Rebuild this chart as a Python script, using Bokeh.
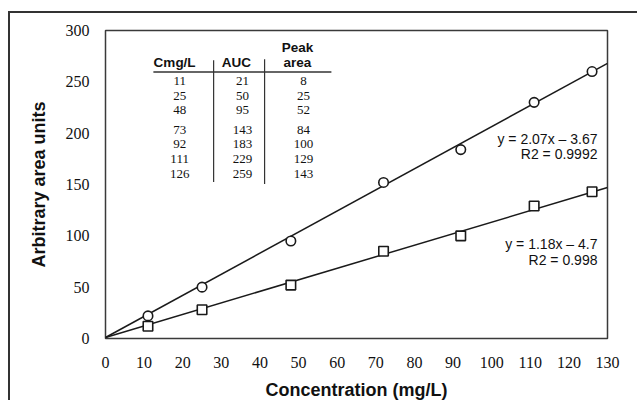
from bokeh.plotting import figure
from bokeh.models import FixedTicker, Label, ColumnDataSource
from bokeh.core.properties import value
from bokeh.embed import file_html
from bokeh.resources import INLINE

# ---- data ----
table_conc = ["11", "25", "48", "73", "92", "111", "126"]
table_auc = ["21", "50", "95", "143", "183", "229", "259"]
table_peak = ["8", "25", "52", "84", "100", "129", "143"]

plot_x = [11, 25, 48, 72, 92, 111, 126]
plot_auc = [22, 50, 95, 152, 184, 230, 260]
plot_peak = [12, 28, 52, 85, 100, 129, 143]

fit_x = [0, 130]
fit_auc = [1, 268]
fit_peak = [1, 147]

x_ticks = list(range(0, 140, 10))
y_ticks = list(range(0, 350, 50))

eq_auc = ["y = 2.07x \u2013 3.67", "R2 = 0.9992"]
eq_peak = ["y = 1.18x \u2013 4.7", "R2 = 0.998"]

SERIF = "Liberation Serif"
SANS = "Liberation Sans"

p = figure(width=629, height=389, x_range=(0, 130), y_range=(0, 300),
           output_backend="svg", toolbar_location=None,
           min_border_left=95, min_border_right=32, min_border_top=17,
           min_border_bottom=61)
p.styles = {"margin-left": "8px", "margin-top": "11px",
            "border-left": "2px solid #333333", "border-top": "2px solid #333333"}
p.background_fill_color = "white"
p.border_fill_color = "white"
p.outline_line_color = "#3a3a3a"
p.outline_line_width = 1.5
p.xgrid.visible = False
p.ygrid.visible = False

p.xaxis.axis_line_color = None
p.yaxis.axis_line_color = None
p.xaxis.major_tick_line_color = None
p.yaxis.major_tick_line_color = None
p.xaxis.minor_tick_line_color = None
p.yaxis.minor_tick_line_color = None
p.xaxis.major_label_text_font = SERIF
p.yaxis.major_label_text_font = SERIF
p.xaxis.major_label_text_font_size = "16px"
p.yaxis.major_label_text_font_size = "16px"
p.xaxis.major_label_text_color = "#111111"
p.yaxis.major_label_text_color = "#111111"
p.xaxis.axis_label_text_font = SANS
p.yaxis.axis_label_text_font = SANS
p.xaxis.axis_label_text_font_style = "bold"
p.yaxis.axis_label_text_font_style = "bold"
p.xaxis.axis_label_text_font_size = "18px"
p.yaxis.axis_label_text_font_size = "18px"
p.xaxis.axis_label_text_color = "#111111"
p.yaxis.axis_label_text_color = "#111111"

p.xaxis.ticker = FixedTicker(ticks=x_ticks)
p.yaxis.ticker = FixedTicker(ticks=y_ticks)
p.xaxis.axis_label = "Concentration (mg/L)"
p.yaxis.axis_label = "Arbitrary area units"
p.xaxis.major_label_standoff = 12
p.xaxis.axis_label_standoff = 9
p.yaxis.major_label_standoff = 10
p.yaxis.axis_label_standoff = 14

# fitted lines
p.line(fit_x, fit_auc, line_color="#1a1a1a", line_width=1.5)
p.line(fit_x, fit_peak, line_color="#1a1a1a", line_width=1.5)

# markers
p.scatter(plot_x, plot_auc, marker="circle", size=9.5, fill_color="white",
          line_color="#1a1a1a", line_width=1.6)
p.scatter(plot_x, plot_peak, marker="square", size=9.5, fill_color="white",
          line_color="#1a1a1a", line_width=1.6)

# ---- embedded table (layout in data units) ----
col_x = [19.2, 35.5, 51.3]
row_y = [250.8, 236.3, 222.1, 203.5, 189.1, 174.6, 160.0]
for cx, col in zip(col_x, [table_conc, table_auc, table_peak]):
    src = ColumnDataSource(dict(x=[cx] * len(col), y=row_y, t=col))
    p.text(x="x", y="y", text="t", source=src, text_font=value(SERIF),
           text_font_size="13px", text_align="center", text_baseline="middle",
           text_color="#111111")

hdr = ColumnDataSource(dict(x=[17.9, 33.9, 49.7, 49.7], y=[269.1, 269.1, 283.6, 269.1],
                            t=["Cmg/L", "AUC", "Peak", "area"]))
p.text(x="x", y="y", text="t", source=hdr, text_font=value(SANS),
       text_font_style="bold", text_font_size="13.5px", text_align="center",
       text_baseline="middle", text_color="#111111")

p.segment(x0=[12.4], y0=[259.5], x1=[58.5], y1=[259.5], line_color="#333333", line_width=1.5)
p.segment(x0=[28.0, 41.2], y0=[271.0, 272.0], x1=[28.0, 41.2], y1=[152.4, 150.5],
          line_color="#333333", line_width=1.2)

# ---- regression equations ----
for txt, yy in zip(eq_auc + eq_peak, [193.9, 179.4, 91.6, 76.2]):
    p.add_layout(Label(x=127.4, y=yy, text=txt, text_font=SANS, text_font_size="14px",
                       text_align="right", text_baseline="middle", text_color="#111111"))

open("out.html", "w").write(file_html(p, INLINE))
